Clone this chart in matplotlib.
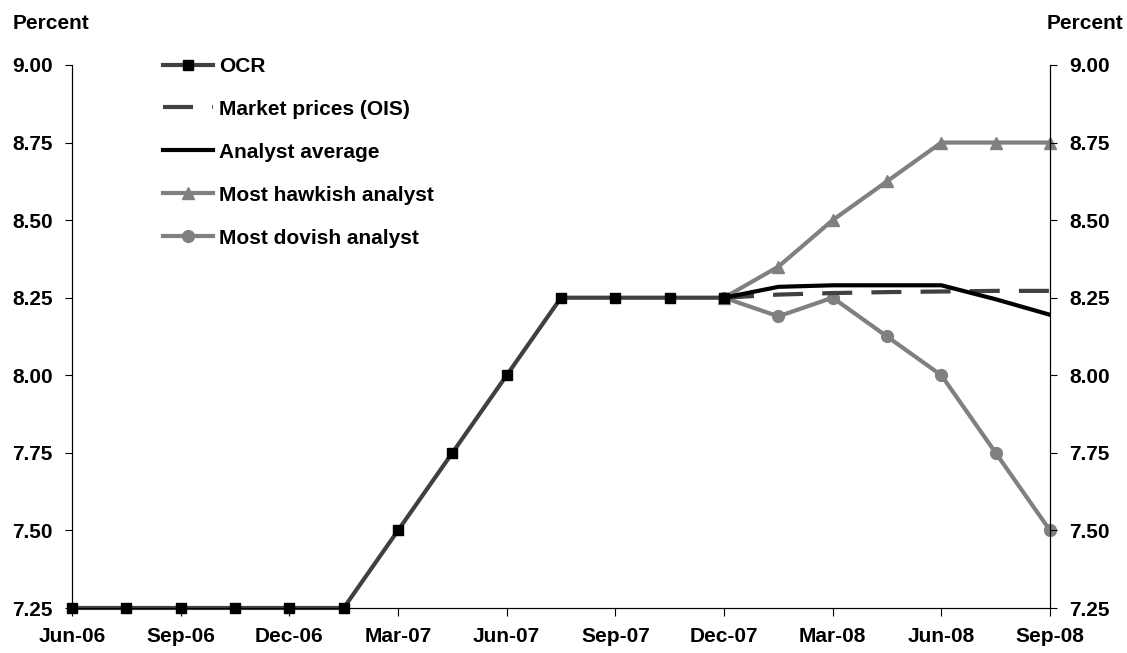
import matplotlib
matplotlib.use('Agg')
import matplotlib.pyplot as plt
from matplotlib.ticker import FormatStrFormatter

plt.rcParams['font.family'] = ['Liberation Sans', 'DejaVu Sans']
plt.rcParams['font.weight'] = 'bold'

# OCR review dates, roughly six weeks apart; every second one is labelled
dates = ['Jun-06', 'Jul-06', 'Sep-06', 'Oct-06', 'Dec-06', 'Jan-07', 'Mar-07',
         'Apr-07', 'Jun-07', 'Jul-07', 'Sep-07', 'Oct-07', 'Dec-07', 'Jan-08',
         'Mar-08', 'Apr-08', 'Jun-08', 'Jul-08', 'Sep-08']
ocr = [7.25, 7.25, 7.25, 7.25, 7.25, 7.25, 7.50, 7.75, 8.00, 8.25, 8.25, 8.25, 8.25]
ois = [8.25, 8.26, 8.265, 8.268, 8.27, 8.272, 8.272]
analyst_avg = [8.25, 8.285, 8.29, 8.29, 8.29, 8.245, 8.195]
hawkish = [8.25, 8.35, 8.50, 8.625, 8.75, 8.75, 8.75]
dovish = [8.25, 8.19, 8.25, 8.125, 8.00, 7.75, 7.50]

x_all = list(range(len(dates)))
x_fc = x_all[len(ocr) - 1:]

fig = plt.figure(figsize=(11.27, 6.53), dpi=100)
ax = fig.add_axes([0.0639, 0.0689, 0.8678, 0.8316])

dark = '#404040'
grey = '#808080'
fs = 15
ax.plot(x_all[:len(ocr)], ocr, color=dark, lw=3.0, marker='s', ms=7,
        mfc='black', mec='black', clip_on=False, zorder=5, label='OCR')
ax.plot(x_fc, ois, color=dark, lw=3.0, dashes=(7.2, 4.6), zorder=3,
        label='Market prices (OIS)')
ax.plot(x_fc, analyst_avg, color='black', lw=3, zorder=4, label='Analyst average')
ax.plot(x_fc, hawkish, color=grey, lw=3, marker='^', ms=8.5, clip_on=False,
        zorder=2, label='Most hawkish analyst')
ax.plot(x_fc, dovish, color=grey, lw=3, marker='o', ms=8.5, clip_on=False,
        zorder=2, label='Most dovish analyst')

ax.set_xlim(0, len(dates) - 1)
ax.set_ylim(7.25, 9.0)
yt = [7.25 + 0.25 * i for i in range(8)]
ax.set_yticks(yt)
ax.yaxis.set_major_formatter(FormatStrFormatter('%.2f'))
ax.set_xticks(x_all[::2])
ax.set_xticklabels(dates[::2])

ax.spines['top'].set_visible(False)
for s in ['left', 'right', 'bottom']:
    ax.spines[s].set_linewidth(0.8)
ax.tick_params(axis='x', direction='out', length=6, width=0.8, labelsize=fs, pad=8)
ax.tick_params(axis='y', direction='out', length=5, width=0.8, labelsize=fs, pad=9)

ax2 = ax.twinx()
ax2.set_ylim(ax.get_ylim())
ax2.set_yticks(yt)
ax2.yaxis.set_major_formatter(FormatStrFormatter('%.2f'))
ax2.spines['top'].set_visible(False)
ax2.spines['right'].set_linewidth(0.8)
ax2.tick_params(axis='y', direction='out', length=5, width=0.8, labelsize=fs, pad=9)

fig.text(0.011, 0.964, 'Percent', fontsize=fs, fontweight='bold', ha='left', va='center')
fig.text(0.997, 0.964, 'Percent', fontsize=fs, fontweight='bold', ha='right', va='center')

leg = ax.legend(loc='upper left', bbox_to_anchor=(0.093, 1.015), frameon=False,
                fontsize=fs, handlelength=2.4, handletextpad=0.3, labelspacing=1.15,
                borderpad=0, borderaxespad=0)

fig.savefig('out.png', dpi=100)
